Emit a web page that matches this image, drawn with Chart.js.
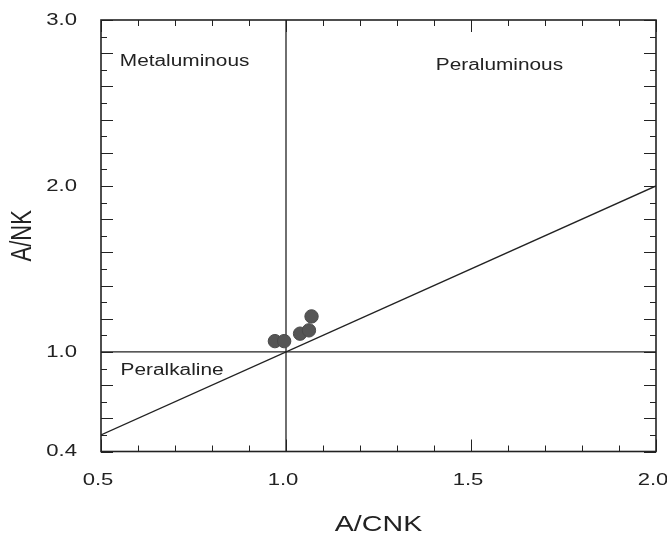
<!DOCTYPE html>
<html>
<head>
<meta charset="utf-8">
<script src="https://cdn.jsdelivr.net/npm/chart.js@4"></script>
<style>
  body { margin: 0; background: #fff; }
  canvas { display: block; }
</style>
</head>
<body>
<canvas id="plot" width="667" height="540"></canvas>
<script>
const xTickLabels = [0.5, 1.0, 1.5, 2.0];
const yTickLabels = [0.4, 1.0, 2.0, 3.0];

// samples, A/CNK vs A/NK
const sampleACNK = [0.970, 0.995, 1.038, 1.062, 1.069];
const sampleANK = [1.065, 1.065, 1.110, 1.130, 1.214];

// field boundaries
const verticalX = [1.0, 1.0];
const verticalY = [0.4, 3.0];
const horizontalX = [0.5, 2.0];
const horizontalY = [1.0, 1.0];
const diagonalX = [0.5, 2.0];
const diagonalY = [0.5, 2.0];

const fieldNames = ['Metaluminous', 'Peraluminous', 'Peralkaline'];

const FONT = "'Liberation Sans', Arial, sans-serif";
const TEXT_STRETCH = 1.3;
const INK = '#222';

const toPoints = (xs, ys) => xs.map((x, i) => ({ x: x, y: ys[i] }));
const near = (a, b) => Math.abs(a - b) < 1e-6;

// the original figure has wide lettering, stretch text in screen x
const wideText = {
    id: 'wideText',
    beforeDraw(chart) {
        const ctx = chart.ctx;
        if (ctx._wide) return;
        const fill = ctx.fillText.bind(ctx);
        ctx.fillText = function (text, x, y, maxWidth) {
            const m = ctx.getTransform();
            const p = m.transformPoint(new DOMPoint(x, y));
            ctx.save();
            ctx.setTransform(new DOMMatrix().translate(p.x, p.y).scale(TEXT_STRETCH, 1).translate(-p.x, -p.y).multiply(m));
            if (maxWidth === undefined) fill(text, x, y);
            else fill(text, x, y, maxWidth);
            ctx.restore();
        };
        ctx._wide = true;
    }
};

const fieldLabels = {
    id: 'fieldLabels',
    afterDatasetsDraw(chart) {
        const { ctx, scales: { x, y } } = chart;
        const spots = [[0.551, 2.72], [1.405, 2.70], [0.553, 0.86]];
        ctx.save();
        ctx.font = '16px ' + FONT;
        ctx.fillStyle = INK;
        ctx.textAlign = 'left';
        ctx.textBaseline = 'alphabetic';
        fieldNames.forEach((name, i) => {
            ctx.fillText(name, x.getPixelForValue(spots[i][0]), y.getPixelForValue(spots[i][1]));
        });
        ctx.restore();
    }
};

// box frame with inward ticks on all four sides
const frameTicks = {
    id: 'frameTicks',
    afterDraw(chart) {
        const { ctx, chartArea: a, scales: { x, y } } = chart;
        ctx.save();
        ctx.strokeStyle = INK;
        ctx.lineWidth = 1;
        ctx.beginPath();
        x.ticks.forEach(t => {
            const px = Math.round(x.getPixelForValue(t.value)) + 0.5;
            const len = near(t.value * 2, Math.round(t.value * 2)) ? 12 : 6;
            ctx.moveTo(px, a.bottom); ctx.lineTo(px, a.bottom - len);
            ctx.moveTo(px, a.top); ctx.lineTo(px, a.top + len);
        });
        y.ticks.forEach(t => {
            const py = Math.round(y.getPixelForValue(t.value)) + 0.5;
            const len = near(t.value * 5, Math.round(t.value * 5)) ? 12 : 6;
            ctx.moveTo(a.left, py); ctx.lineTo(a.left + len, py);
            ctx.moveTo(a.right, py); ctx.lineTo(a.right - len, py);
        });
        ctx.stroke();
        ctx.lineWidth = 1.6;
        ctx.strokeRect(a.left, a.top, a.right - a.left, a.bottom - a.top);
        ctx.restore();
    }
};

const boundary = (xs, ys) => ({
    data: toPoints(xs, ys),
    showLine: true,
    borderColor: INK,
    borderWidth: 1.3,
    pointRadius: 0,
    fill: false
});

new Chart(document.getElementById('plot'), {
    type: 'scatter',
    data: {
        datasets: [
            {
                data: toPoints(sampleACNK, sampleANK),
                pointRadius: 6.7,
                pointBackgroundColor: '#555',
                pointBorderColor: '#4a4a4a',
                pointBorderWidth: 1
            },
            boundary(verticalX, verticalY),
            boundary(horizontalX, horizontalY),
            boundary(diagonalX, diagonalY)
        ]
    },
    options: {
        responsive: false,
        animation: false,
        layout: { padding: { top: 20, right: 11, bottom: 0, left: 0 } },
        plugins: {
            legend: { display: false },
            tooltip: { enabled: false }
        },
        scales: {
            x: {
                type: 'linear',
                min: 0.5,
                max: 2.0,
                grid: { display: false, drawTicks: false },
                border: { display: false },
                afterFit: s => { s.height = 88.5; s.paddingLeft = 0; s.paddingRight = 0; },
                ticks: {
                    stepSize: 0.1,
                    autoSkip: false,
                    maxRotation: 0,
                    padding: 19,
                    labelOffset: -3,
                    color: INK,
                    font: { family: FONT, size: 17 },
                    callback: v => xTickLabels.some(l => near(l, v)) ? v.toFixed(1) : ''
                },
                title: {
                    display: true,
                    text: 'A/CNK',
                    color: INK,
                    font: { family: FONT, size: 22 },
                    padding: { top: 4, bottom: 2 }
                }
            },
            y: {
                type: 'linear',
                min: 0.4,
                max: 3.0,
                grid: { display: false, drawTicks: false },
                border: { display: false },
                afterFit: s => { s.width = 101; s.paddingTop = 0; s.paddingBottom = 0; },
                ticks: {
                    stepSize: 0.1,
                    autoSkip: false,
                    padding: 24,
                    color: INK,
                    font: { family: FONT, size: 17 },
                    callback: v => yTickLabels.some(l => near(l, v)) ? v.toFixed(1) : ''
                },
                title: {
                    display: true,
                    text: 'A/NK',
                    color: INK,
                    font: { family: FONT, size: 22 },
                    padding: { top: 10, bottom: 0 }
                }
            }
        }
    },
    plugins: [wideText, fieldLabels, frameTicks]
});
</script>
</body>
</html>
